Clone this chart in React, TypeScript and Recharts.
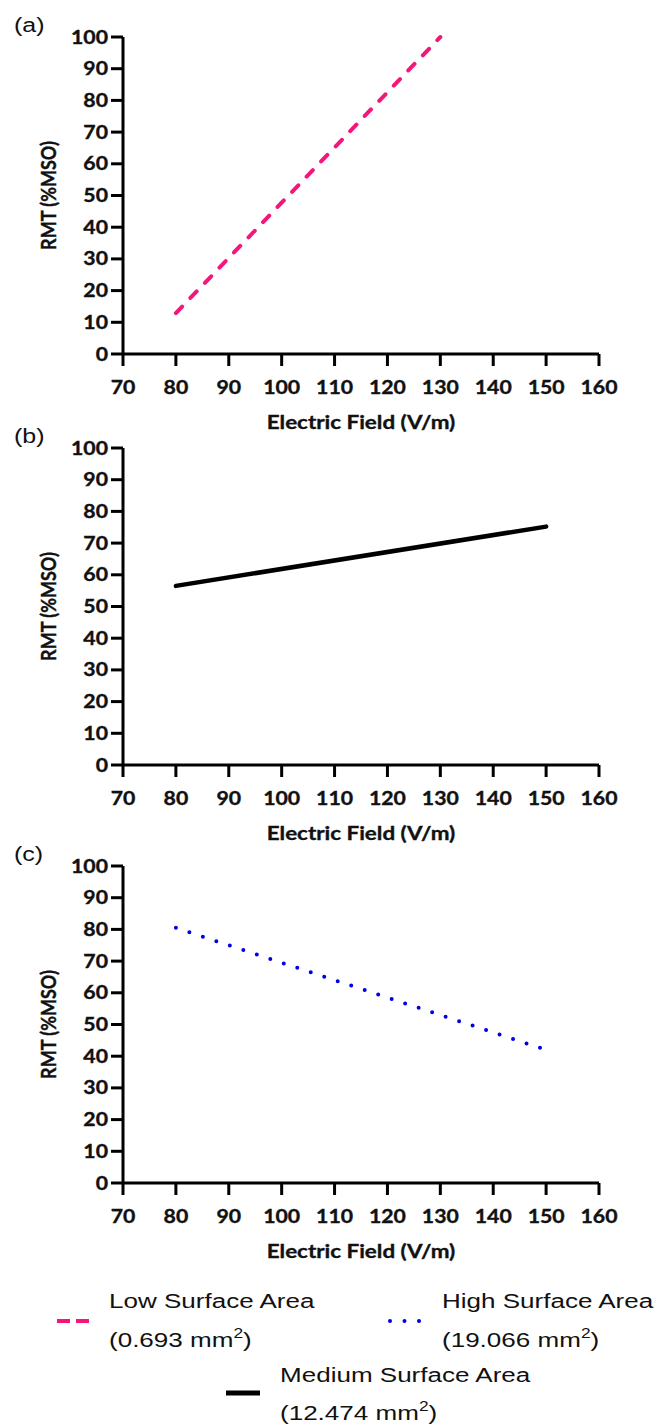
import { LineChart, Line, XAxis, YAxis } from "recharts";

// x axis: electric field (V/m), y axis: RMT (%MSO)
const fieldTicks = [70, 80, 90, 100, 110, 120, 130, 140, 150, 160];
const rmtTicks = [0, 10, 20, 30, 40, 50, 60, 70, 80, 90, 100];

const lowField = [80, 130];
const lowRmt = [12.9, 100];

const mediumField = [80, 150];
const mediumRmt = [56.5, 75.2];

const highField = [80, 150];
const highRmt = [80.5, 42];

const panelLabels = ["(a)", "(b)", "(c)"];
const legendNames = ["Low Surface Area", "High Surface Area", "Medium Surface Area"];
const legendAreas = ["0.693", "19.066", "12.474"];

const PINK = "#f5167a";
const BLUE = "#0000e0";
const BLACK = "#000000";

const TICK_FONT = "Lato, 'Open Sans', sans-serif";
const TEXT_FONT = "'Liberation Sans', Arial, sans-serif";

const toRows = (xs: number[], ys: number[]) =>
  xs.map((field, i) => ({ field, rmt: ys[i] }));

// bold axis text, a little heavier than the font alone
const boldText = {
  fontFamily: TICK_FONT,
  fontWeight: 700,
  fill: "#111",
  stroke: "#111",
  strokeWidth: 0.35,
};

const FieldTick = ({ x, y, payload }: any) => (
  <g transform={`translate(${x},${y})`}>
    <text transform="scale(1.18,1)" textAnchor="middle" dy={24} fontSize={18} {...boldText}>
      {payload.value}
    </text>
  </g>
);

const RmtTick = ({ x, y, payload }: any) => (
  <g transform={`translate(${x},${y})`}>
    <text transform="scale(1.18,1)" textAnchor="end" dy={6.5} fontSize={18} {...boldText}>
      {payload.value}
    </text>
  </g>
);

const FieldTitle = (props: any) => {
  const vb = props.viewBox || { x: 123, y: 337, width: 476 };
  return (
    <text
      transform={`translate(${vb.x + vb.width / 2},${vb.y + 75}) scale(1.18,1)`}
      textAnchor="middle"
      fontSize={19}
      {...boldText}
    >
      Electric Field (V/m)
    </text>
  );
};

const RmtTitle = (props: any) => {
  const vb = props.viewBox || { x: 0, y: 20, height: 317 };
  return (
    <text
      transform={`translate(48,${vb.y + vb.height / 2}) rotate(-90) scale(1,1.18)`}
      textAnchor="middle"
      dominantBaseline="central"
      fontSize={18}
      {...boldText}
    >
      RMT (%MSO)
    </text>
  );
};

interface PanelProps {
  top: number;
  data: { field: number; rmt: number }[];
  color: string;
  dash?: string;
  width?: number;
}

const Panel = ({ top, data, color, dash, width = 4 }: PanelProps) => (
  <div style={{ position: "absolute", left: 0, top: top - 20 }}>
    <LineChart
      width={670}
      height={423}
      data={data}
      margin={{ top: 20, right: 71, bottom: 0, left: 0 }}
    >
      <XAxis
        dataKey="field"
        type="number"
        domain={[70, 160]}
        ticks={fieldTicks}
        interval={0}
        height={86}
        tickSize={12}
        tickMargin={4}
        tick={<FieldTick />}
        axisLine={{ stroke: "#000", strokeWidth: 3 }}
        tickLine={{ stroke: "#000", strokeWidth: 3 }}
        label={<FieldTitle />}
      />
      <YAxis
        dataKey="rmt"
        type="number"
        domain={[0, 100]}
        ticks={rmtTicks}
        interval={0}
        width={123}
        tickSize={12}
        tickMargin={3}
        tick={<RmtTick />}
        axisLine={{ stroke: "#000", strokeWidth: 3 }}
        tickLine={{ stroke: "#000", strokeWidth: 3 }}
        label={<RmtTitle />}
      />
      <Line
        type="linear"
        dataKey="rmt"
        stroke={color}
        strokeWidth={width}
        strokeDasharray={dash}
        strokeLinecap="round"
        dot={false}
        activeDot={false}
        isAnimationActive={false}
      />
    </LineChart>
  </div>
);

const AreaText = ({ x, y1, y2, name, area }: any) => (
  <g
    transform={`translate(${x},0) scale(1.24,1)`}
    fontFamily={TEXT_FONT}
    fontSize={21}
    fill="#111"
  >
    <text x={0} y={y1}>{name}</text>
    <text x={0} y={y2}>
      ({area} mm
      <tspan dy={-9} fontSize={14}>2</tspan>
      <tspan dy={9}>)</tspan>
    </text>
  </g>
);

const plotTops = [37, 448, 866];

export default function App() {
  return (
    <div
      style={{
        position: "absolute",
        left: 0,
        top: 0,
        width: 670,
        height: 1426,
        background: "#fff",
        overflow: "hidden",
      }}
    >
      <Panel top={plotTops[0]} data={toRows(lowField, lowRmt)} color={PINK} dash="9 12" />
      <Panel top={plotTops[1]} data={toRows(mediumField, mediumRmt)} color={BLACK} width={4.5} />
      <Panel top={plotTops[2]} data={toRows(highField, highRmt)} color={BLUE} dash="0 14.2" />

      <svg
        width={670}
        height={1426}
        style={{ position: "absolute", left: 0, top: 0, pointerEvents: "none" }}
      >
        {panelLabels.map((label, i) => (
          <text
            key={label}
            transform={`translate(14,${plotTops[i] - 5}) scale(1.25,1)`}
            fontFamily={TEXT_FONT}
            fontSize={20}
            fill="#111"
          >
            {label}
          </text>
        ))}

        {/* legend */}
        <line x1={57} y1={1321} x2={89} y2={1321} stroke={PINK} strokeWidth={4} strokeDasharray="13 6" />
        <AreaText x={109} y1={1308} y2={1347} name={legendNames[0]} area={legendAreas[0]} />

        <line x1={390} y1={1321} x2={420} y2={1321} stroke={BLUE} strokeWidth={4} strokeLinecap="round" strokeDasharray="0 14.5" />
        <AreaText x={442} y1={1308} y2={1347} name={legendNames[1]} area={legendAreas[1]} />

        <line x1={226} y1={1393} x2={260} y2={1393} stroke={BLACK} strokeWidth={5} />
        <AreaText x={280} y1={1382} y2={1420} name={legendNames[2]} area={legendAreas[2]} />
      </svg>
    </div>
  );
}
